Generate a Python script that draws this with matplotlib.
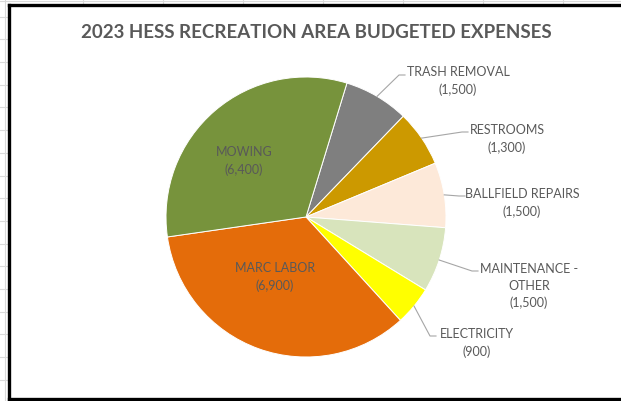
import numpy as np
import matplotlib
matplotlib.use("Agg")
import matplotlib.pyplot as plt

# data, clockwise from the top
categories = ["TRASH REMOVAL", "RESTROOMS", "BALLFIELD REPAIRS", "MAINTENANCE -\nOTHER",
              "ELECTRICITY", "MARC LABOR", "MOWING"]
amounts = [1500, 1300, 1500, 1500, 900, 6900, 6400]
colors = ["#7f7f7f", "#cc9900", "#fde9d9", "#d8e4bc", "#ffff00", "#e46c0a", "#77933c"]
title = "2023 HESS RECREATION AREA BUDGETED EXPENSES"

W, H = 621, 402
TXT = "#595959"
FONT = "Lato"

fig = plt.figure(figsize=(W / 100, H / 100), dpi=100)
ax = fig.add_axes([0, 0, 1, 1])

def Y(y):
    # pixel row from top -> axes y
    return H - y

# spreadsheet grid behind the chart
for x in [83, 163, 243, 323, 403, 483, 563]:
    ax.plot([x, x], [Y(0), Y(5)], color="#d9d9d9", lw=0.8)
ax.plot([0, W], [Y(2), Y(2)], color="#d9d9d9", lw=0.8)
ax.plot([5, 5], [Y(0), Y(H)], color="#d9d9d9", lw=0.8)
for y in np.arange(17.6, H, 22.7):
    ax.plot([0, 8], [Y(y), Y(y)], color="#d9d9d9", lw=0.8)

# chart frame
ax.plot([9, 9], [Y(6), Y(400)], color="black", lw=2.4, solid_capstyle="projecting")
ax.plot([9, W + 5], [Y(6), Y(6)], color="black", lw=2.4, solid_capstyle="projecting")
ax.plot([9, W + 5], [Y(400), Y(400)], color="black", lw=2.4, solid_capstyle="projecting")

cx, cy, r = 306, Y(218), 140
start = 73  # first slice begins ~17 deg clockwise from 12 o'clock
wedges, _ = ax.pie(amounts, colors=colors, startangle=start, counterclock=False,
                   center=(cx, cy), radius=r, frame=True,
                   wedgeprops=dict(edgecolor="white", linewidth=0.7))
ax.set_xlim(0, W)
ax.set_ylim(0, H)
ax.set_aspect("auto")
ax.axis("off")

ax.text(316, Y(33), title, ha="center", va="center", fontsize=13.5,
        fontweight="bold", color=TXT, family=FONT)

# inside labels for the two big slices
inside = {5: (275, 277), 6: (244, 161)}
# outside labels: text centre, elbow point
outside = {
    0: ((458, 81), (405, 76)),
    1: ((507, 139), (468, 133)),
    2: ((522, 203), (465, 197)),
    3: ((529, 286), (478, 272)),
    4: ((477, 343), (436, 337)),
}

for i, w in enumerate(wedges):
    lab = f"{categories[i]}\n({amounts[i]:,})"
    if i in inside:
        tx, ty = inside[i]
        ax.text(tx, Y(ty), lab, ha="center", va="center", fontsize=9,
                color=TXT, family=FONT, linespacing=1.45)
        continue
    (tx, ty), (ex, ey) = outside[i]
    mid = np.deg2rad((w.theta1 + w.theta2) / 2)
    sx, sy = cx + r * np.cos(mid), cy + r * np.sin(mid)
    ax.plot([sx, ex - 6, ex], [sy, Y(ey), Y(ey)], color="#a6a6a6", lw=0.8)
    ax.text(tx, Y(ty), lab, ha="center", va="center", fontsize=9,
            color=TXT, family=FONT, linespacing=1.45)

fig.savefig("out.png", dpi=100)
